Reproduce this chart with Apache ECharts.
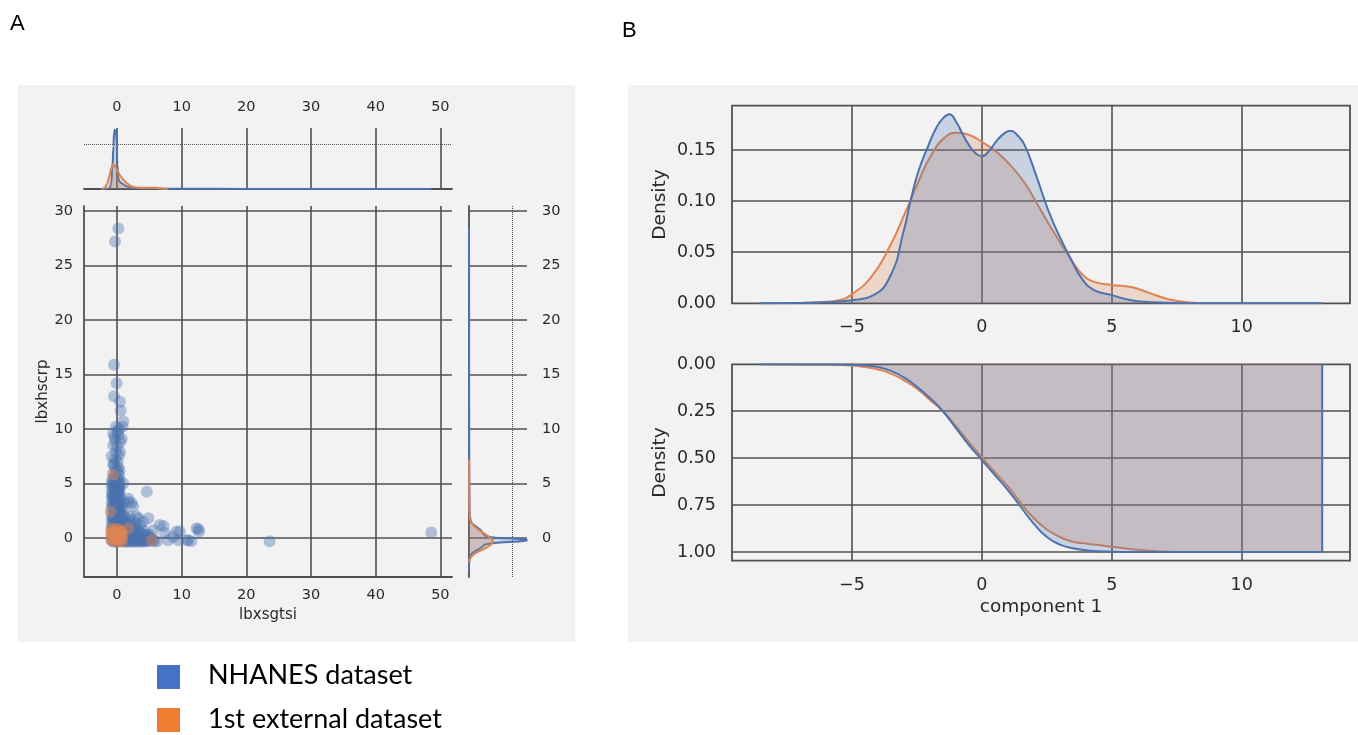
<!DOCTYPE html>
<html><head><meta charset="utf-8">
<script src="https://cdn.jsdelivr.net/npm/echarts@6/dist/echarts.min.js"></script>
<style>html,body{margin:0;padding:0;background:#fff}#c{width:1358px;height:735px}</style>
</head><body><div id="c"></div>
<script>
// ---------- DATA ----------
// Panel A scatter: [lbxsgtsi, lbxhscrp]
const nhanesPoints = [
  [0.2,28.4],[-0.3,27.2],[48.6,0.5],[23.6,-0.3],
  [-0.46,15.9],[-0.05,14.2],[-0.46,13.0],[0.46,12.5],[0.57,11.7],[0.97,10.7],[-0.15,10.2],[0.88,10.2],[0.3,10.0],
  [-0.57,9.6],[0.2,9.4],[-0.31,9.0],[0.72,9.1],[-0.57,8.5],[0.0,8.4],[0.46,7.9],[-0.82,7.5],[-0.31,7.2],[0.3,7.6],
  [-0.57,6.7],[0.2,6.5],[0.97,5.0],[4.6,4.25],[1.9,3.3],[1.75,3.6],[2.27,3.2],[2.5,2.9],
  [2.0,2.0],[3.0,2.0],[3.3,1.8],[4.85,1.8],[4.0,1.5],[6.6,1.2],[7.2,1.1],[5.6,0.7],[7.4,0.45],[9.2,0.6],[9.7,0.6],
  [8.7,0.1],[9.5,-0.2],[10.8,-0.2],[11.0,-0.2],[11.5,-0.3],[12.3,0.9],[12.7,0.6],[12.6,0.8],[5.6,-0.2],[7.9,-0.2],
  [1.75,0.9],[6.2,-0.3],[5.0,0.3],[4.5,-0.2],
  [-0.6,5.9],[0.0,6.1],[-0.5,5.5],[0.1,5.4],[-0.7,5.0],[-0.2,4.9],[0.3,5.1],
  [-0.5,4.5],[0.0,4.4],[0.4,4.6],[-0.7,4.0],[-0.2,3.9],[0.3,4.1],
  [-0.5,3.5],[0.0,3.4],[0.5,3.6],[1.1,3.3],[-0.7,3.0],[-0.2,2.9],[0.3,3.1],[0.8,2.8],
  [-0.5,2.5],[0.0,2.4],[0.5,2.6],[1.0,2.3],[-0.7,2.0],[-0.2,1.9],[0.3,2.1],[0.8,1.8],[1.4,1.7],[2.2,1.6],
  [-0.5,1.5],[0.0,1.4],[0.5,1.6],[1.0,1.3],[1.6,1.4],[2.3,1.2],[3.0,1.3],[3.6,1.1],
  [-0.7,1.0],[-0.2,0.9],[0.3,1.1],[0.8,0.8],[1.4,0.9],[2.0,0.7],[2.7,0.8],[3.4,0.6],[4.1,0.7],
  [-0.5,0.5],[0.0,0.4],[0.5,0.6],[1.1,0.3],[1.7,0.4],[2.4,0.2],[3.1,0.3],[3.8,0.1],[4.5,0.2],[5.2,0.0],
  [-0.7,0.0],[-0.2,-0.1],[0.3,0.1],[0.9,-0.2],[1.5,-0.1],[2.1,-0.2],[2.8,-0.3],[3.5,-0.2],[4.2,-0.3],[4.9,-0.3],[5.7,-0.3],
  [-0.5,-0.35],[0.1,-0.35],[0.6,-0.3],[1.2,-0.35],[1.8,-0.35],[2.5,-0.35],[3.2,-0.35],[3.9,-0.35],
  [-0.3,5.7],[0.3,5.8],[-0.4,5.2],[0.2,5.0],[-0.6,4.7],[0.1,4.7],[-0.3,4.2],[0.2,4.3],[-0.6,3.8],[0.1,3.7],
  [-0.3,3.2],[0.2,3.2],[-0.6,2.7],[0.1,2.7],[0.6,3.0],[-0.3,2.2],[0.2,2.3],[0.6,2.1],[-0.6,1.7],[0.1,1.7],
  [0.7,1.5],[1.2,1.9],[-0.3,1.2],[0.2,1.2],[0.8,1.1],[1.3,1.2],[1.9,1.0],[2.6,1.0],[-0.6,0.7],[0.0,0.7],
  [0.6,0.8],[1.2,0.6],[1.8,0.6],[2.5,0.5],[3.2,0.5],[3.9,0.4],[-0.3,0.2],[0.3,0.3],[0.9,0.1],[1.5,0.2],
  [2.1,0.1],[2.8,0.0],[3.5,0.0],[4.2,0.0],[4.8,0.1],[-0.6,-0.2],[0.0,-0.15],[0.6,-0.1],[1.3,-0.2],[1.9,-0.25],
  [2.6,-0.15],[3.3,-0.1],[4.0,-0.15],[4.6,-0.1],[5.4,-0.15],[-0.2,6.4],[0.4,6.2],[-0.5,6.8],[0.1,7.0],[-0.2,7.9],
  [0.5,8.8],[-0.4,9.3],[0.1,9.8],
  [-0.8,5.25],[-0.4,5.3],[0.0,5.2],[0.4,5.35],[-0.8,4.75],[-0.4,4.8],[0.0,4.7],[0.4,4.85],
  [-0.8,4.25],[-0.4,4.3],[0.0,4.2],[0.4,4.35],[-0.8,3.75],[-0.4,3.8],[0.0,3.7],[0.4,3.85],
  [-0.8,3.25],[-0.4,3.3],[0.0,3.2],[0.4,3.35],[-0.8,2.75],[-0.4,2.8],[0.0,2.7],[0.4,2.85],
  [-0.8,2.25],[-0.4,2.3],[0.0,2.2],[0.4,2.35],[-0.8,1.75],[-0.4,1.8],[0.0,1.7],[0.4,1.85],
  [-0.8,1.25],[-0.4,1.3],[0.0,1.2],[0.4,1.35],[-0.8,0.75],[-0.4,0.8],[0.0,0.7],[0.4,0.85],
  [-0.8,0.25],[-0.4,0.3],[0.0,0.2],[0.4,0.35],[-0.8,-0.25],[-0.4,-0.2],[0.0,-0.3],[0.4,-0.15],
  [1.0,0.25],[1.6,0.3],[2.2,0.25],[2.8,0.3],[3.4,0.2],[4.0,0.25],[4.6,0.3],
  [0.9,-0.25],[1.6,-0.3],[2.3,-0.25],[3.0,-0.3],[3.7,-0.25],[4.4,-0.3],[5.1,-0.2],
  [1.0,0.75],[1.6,0.7],[2.2,0.8],[2.8,0.75],[0.9,1.25],[1.5,1.2]
];
const externalPoints = [
  [-0.57,5.8],[-0.97,2.4],[1.75,0.9],[5.4,-0.2],
  [-0.9,0.8],[-0.4,0.85],[0.1,0.8],[0.6,0.7],
  [-0.9,0.4],[-0.5,0.5],[0.0,0.45],[0.5,0.4],[0.9,0.3],
  [-0.8,0.1],[-0.3,0.0],[0.2,0.1],[0.7,0.0],
  [-0.9,-0.2],[-0.5,-0.3],[0.0,-0.25],[0.4,-0.3],[0.8,-0.35],
  [-0.6,0.2],[0.3,0.6],[-0.2,0.3],[0.4,-0.05],[-0.7,0.6],[0.7,0.45],[-0.1,-0.1]
];
// Panel A top marginal KDE of lbxsgtsi (relative density units)
const topKdeX_nhanes = [-2.5,-1.5,-1.1,-0.9,-0.7,-0.55,-0.45,-0.35,-0.25,-0.15,-0.05,0.05,0.2,0.4,0.7,1.0,1.5,2.0,3.0,5.0,10,20,30,40,48.6];
const topKdeD_nhanes = [0,0.005,0.03,0.12,0.45,0.95,1.25,1.31,1.22,1.3,1.05,0.55,0.25,0.16,0.13,0.1,0.06,0.035,0.02,0.01,0.004,0.002,0.001,0.001,0];
const topKdeX_external = [-2.3,-1.9,-1.5,-1.2,-0.9,-0.66,-0.4,-0.1,0.2,0.5,0.8,1.1,1.5,2.0,2.5,3.0,4.0,5.0,6.0,7.0,7.8];
const topKdeD_external = [0,0.03,0.12,0.28,0.46,0.556,0.53,0.45,0.37,0.3,0.24,0.19,0.13,0.08,0.05,0.035,0.025,0.03,0.025,0.01,0];
// Panel A right marginal KDE of lbxhscrp
const rightKdeY_nhanes = [-3.0,-2.0,-1.5,-1.2,-0.9,-0.6,-0.45,-0.3,-0.2,-0.1,0.05,0.2,0.4,0.7,1.0,1.4,2.0,3,5,8,12,20,28.4];
const rightKdeD_nhanes = [0,0.01,0.05,0.15,0.28,0.38,0.6,1.2,1.35,1.2,0.55,0.38,0.33,0.28,0.18,0.06,0.02,0.012,0.008,0.005,0.003,0.002,0];
const rightKdeY_external = [-2.2,-1.8,-1.4,-1.0,-0.6,-0.3,0,0.3,0.6,1.0,1.4,1.8,2.5,4,6,7.2];
const rightKdeD_external = [0,0.04,0.15,0.35,0.52,0.56,0.5,0.4,0.28,0.14,0.05,0.02,0.01,0.008,0.005,0];
// Panel B top: density of component 1
const pdfX_nhanes = [-8.57,-7,-6,-5,-4.25,-3.54,-3.0,-2.73,-2.46,-2.1,-1.75,-1.5,-1.25,-1.0,-0.75,-0.5,-0.25,0,0.3,0.6,0.9,1.1,1.35,1.64,2.09,2.54,2.98,3.43,3.88,4.32,5.0,5.75,6.64,8,10,13.1];
const pdfD_nhanes = [0,0.0002,0.001,0.003,0.007,0.026,0.072,0.102,0.128,0.152,0.172,0.181,0.185,0.178,0.166,0.155,0.147,0.144,0.150,0.160,0.167,0.169,0.165,0.155,0.125,0.092,0.066,0.043,0.023,0.013,0.008,0.003,0.001,0,0,0];
const pdfX_external = [-8.57,-7,-6,-5.5,-5,-4.25,-3.54,-3.0,-2.46,-1.93,-1.39,-0.95,-0.5,0,0.57,1.1,1.64,2.18,2.71,3.43,3.88,4.32,5.0,5.75,6.46,7.18,7.9,8.6,13.1];
const pdfD_external = [0,0.0003,0.0015,0.003,0.009,0.026,0.056,0.086,0.118,0.146,0.163,0.167,0.165,0.158,0.148,0.135,0.118,0.095,0.072,0.043,0.028,0.021,0.018,0.016,0.010,0.004,0.001,0,0];
// Panel B bottom: cumulative density of component 1
const cdfX = [-8.57,-6,-5,-4.5,-4,-3.5,-3,-2.5,-2,-1.5,-1,-0.5,0,0.5,1,1.5,2,2.5,3,3.5,4,4.5,5,6,7,8,13.1];
const cdf_nhanes = [0,0.0005,0.002,0.006,0.015,0.035,0.07,0.12,0.18,0.25,0.34,0.43,0.51,0.59,0.67,0.76,0.85,0.92,0.96,0.98,0.99,0.996,0.998,1.0,1.0,1.0,1.0];
const cdf_external = [0,0.002,0.007,0.015,0.028,0.05,0.085,0.13,0.19,0.25,0.33,0.415,0.495,0.575,0.65,0.74,0.82,0.88,0.92,0.945,0.955,0.963,0.972,0.988,0.997,1.0,1.0];
const legendLabels = ['NHANES dataset', '1st external dataset'];

// ---------- STYLE ----------
const BLUE = '#4C72B0', ORANGE = '#DD8452';
const BLUE_FILL = 'rgba(76,114,176,0.25)', ORANGE_FILL = 'rgba(221,132,82,0.25)';
const GRIDC = '#505050';
const FONT = 'DejaVu Sans';
const TXT = '#2a2a2a';
const zip = (a, b) => a.map((v, i) => [v, b[i]]);
const minus = v => String(v).replace('-', '\u2212');

const chart = echarts.init(document.getElementById('c'), null, {renderer: 'canvas'});

function splitL(type) {
  return {show: true, showMinLine: false, showMaxLine: false, lineStyle: {color: GRIDC, width: type === 'dotted' ? 1 : 1.6, type: type || 'solid'}};
}
const noLine = {show: false}, noTick = {show: false}, noLabel = {show: false};

function kdeLine(data, xi, yi, color, fill, z, smooth, mono) {
  const s = {type: 'line', xAxisIndex: xi, yAxisIndex: yi, data: data, showSymbol: false, symbol: 'none',
    smooth: smooth, lineStyle: {color: color, width: 2}, itemStyle: {color: color},
    areaStyle: {color: fill, origin: 'start', opacity: 1}, z: z || 3, silent: true, animation: false};
  if (mono) s.smoothMonotone = 'x';
  return s;
}
function sideKde(ys, ds, color, fill, z) {
  return {type: 'custom', xAxisIndex: 3, yAxisIndex: 2, data: [0], silent: true, z: z || 3, animation: false,
    renderItem: function (params, api) {
      const pts = ys.map((y, i) => api.coord([ds[i], y]));
      const poly = [api.coord([0, ys[0]])].concat(pts, [api.coord([0, ys[ys.length - 1]])]);
      return {type: 'group', children: [
        {type: 'polygon', shape: {points: poly, smooth: 0.3}, style: {fill: fill}},
        {type: 'polyline', shape: {points: pts, smooth: 0.3}, style: {stroke: color, lineWidth: 2, fill: null}}
      ]};
    }};
}

const scatterX = {min: -5.1, max: 51.8};
const scatterY = {min: -3.58, max: 30.46};
const compX = {min: -9.62, max: 14.17};
const labA = {fontFamily: FONT, fontSize: 14.5, color: TXT};
const labB = {fontFamily: FONT, fontSize: 17.5, color: TXT};

const option = {
  animation: false,
  backgroundColor: '#ffffff',
  graphic: [
    {type: 'rect', left: 18, top: 85, shape: {width: 557, height: 557}, style: {fill: '#f2f2f2'}, z: -10},
    {type: 'rect', left: 628, top: 85, shape: {width: 730, height: 557}, style: {fill: '#f2f2f2'}, z: -10},
    {type: 'text', left: 10, top: 13, style: {text: 'A', font: '22px "Liberation Sans"', fill: '#000'}},
    {type: 'text', left: 622, top: 20, style: {text: 'B', font: '22px "Liberation Sans"', fill: '#000'}},
    {type: 'rect', left: 157, top: 665, shape: {width: 23, height: 24}, style: {fill: '#4472C4'}},
    {type: 'rect', left: 157, top: 708, shape: {width: 23, height: 24}, style: {fill: '#ED7D31'}},
    {type: 'text', left: 208, top: 662, style: {text: legendLabels[0], font: '27px Lato', fill: '#000'}},
    {type: 'text', left: 208, top: 706, style: {text: legendLabels[1], font: '27px Lato', fill: '#000'}}
  ],
  grid: [
    {left: 84, top: 128, width: 368, height: 61},
    {left: 84, top: 206, width: 368, height: 371},
    {left: 469, top: 206, width: 58, height: 371},
    {left: 732, top: 105.7, width: 618, height: 197.6, show: true, borderColor: GRIDC, borderWidth: 1.8},
    {left: 732, top: 364.3, width: 618, height: 196.4, show: true, borderColor: GRIDC, borderWidth: 1.8}
  ],
  xAxis: [
    {gridIndex: 0, type: 'value', ...scatterX, position: 'top', axisLine: noLine, axisTick: noTick,
      axisLabel: {...labA, margin: 13, showMinLabel: false, showMaxLabel: false}, splitLine: splitL()},
    {gridIndex: 0, type: 'value', ...scatterX, position: 'bottom', axisLine: {show: true, onZero: false, lineStyle: {color: GRIDC, width: 1.8}},
      axisTick: noTick, axisLabel: noLabel, splitLine: noLine},
    {gridIndex: 1, type: 'value', ...scatterX, position: 'bottom', axisLine: {show: true, onZero: false, lineStyle: {color: GRIDC, width: 1.8}},
      axisTick: noTick, axisLabel: {...labA, margin: 11, showMinLabel: false, showMaxLabel: false}, splitLine: splitL(),
      name: 'lbxsgtsi', nameLocation: 'middle', nameGap: 31, nameTextStyle: {fontFamily: FONT, fontSize: 15, color: TXT}},
    {gridIndex: 2, type: 'value', min: 0, max: 1.35, interval: 1, axisLine: noLine, axisTick: noTick, axisLabel: noLabel, splitLine: splitL('dotted')},
    {gridIndex: 3, type: 'value', ...compX, axisLine: noLine, axisTick: noTick,
      axisLabel: {...labB, margin: 15, showMinLabel: false, showMaxLabel: false, formatter: minus}, splitLine: splitL()},
    {gridIndex: 4, type: 'value', ...compX, axisLine: noLine, axisTick: noTick,
      axisLabel: {...labB, margin: 16, showMinLabel: false, showMaxLabel: false, formatter: minus}, splitLine: splitL(),
      name: 'component 1', nameLocation: 'middle', nameGap: 37, nameTextStyle: {fontFamily: FONT, fontSize: 18.5, color: TXT}}
  ],
  yAxis: [
    {gridIndex: 0, type: 'value', min: 0, max: 1.35, interval: 1, axisLine: noLine, axisTick: noTick, axisLabel: noLabel, splitLine: splitL('dotted')},
    {gridIndex: 1, type: 'value', ...scatterY, axisLine: {show: true, onZero: false, lineStyle: {color: GRIDC, width: 1.8}}, axisTick: noTick,
      axisLabel: {...labA, margin: 11, showMinLabel: false, showMaxLabel: false}, splitLine: splitL(),
      name: 'lbxhscrp', nameLocation: 'middle', nameGap: 32, nameTextStyle: {fontFamily: FONT, fontSize: 15, color: TXT}},
    {gridIndex: 2, type: 'value', ...scatterY, position: 'left', axisLine: {show: true, onZero: false, lineStyle: {color: GRIDC, width: 1.8}}, axisTick: noTick,
      axisLabel: noLabel, splitLine: splitL()},
    {gridIndex: 2, type: 'value', ...scatterY, position: 'right', axisLine: noLine, axisTick: noTick,
      axisLabel: {...labA, margin: 15, showMinLabel: false, showMaxLabel: false}, splitLine: noLine},
    {gridIndex: 3, type: 'value', min: 0, max: 0.1934, interval: 0.05, axisLine: noLine, axisTick: noTick,
      axisLabel: {...labB, margin: 16, showMaxLabel: false, formatter: v => v.toFixed(2)}, splitLine: splitL(),
      name: 'Density', nameLocation: 'middle', nameGap: 62, nameTextStyle: {fontFamily: FONT, fontSize: 18.5, color: TXT}},
    {gridIndex: 4, type: 'value', min: 0, max: 1.046, interval: 0.25, inverse: true, axisLine: noLine, axisTick: noTick,
      axisLabel: {...labB, margin: 16, showMaxLabel: false, formatter: v => v.toFixed(2)}, splitLine: splitL(),
      name: 'Density', nameLocation: 'middle', nameGap: 62, nameTextStyle: {fontFamily: FONT, fontSize: 18.5, color: TXT}}
  ],
  series: [
    kdeLine(zip(topKdeX_nhanes, topKdeD_nhanes), 0, 0, BLUE, BLUE_FILL, 3, 0.35, true),
    kdeLine(zip(topKdeX_external, topKdeD_external), 0, 0, ORANGE, ORANGE_FILL, 4, 0.35, true),
    {type: 'scatter', xAxisIndex: 2, yAxisIndex: 1, data: nhanesPoints, symbolSize: 12,
      itemStyle: {color: BLUE, opacity: 0.4}, silent: true, z: 3},
    {type: 'scatter', xAxisIndex: 2, yAxisIndex: 1, data: externalPoints, symbolSize: 12,
      itemStyle: {color: ORANGE, opacity: 0.45}, silent: true, z: 4},
    sideKde(rightKdeY_nhanes, rightKdeD_nhanes, BLUE, BLUE_FILL, 3),
    sideKde(rightKdeY_external, rightKdeD_external, ORANGE, ORANGE_FILL, 4),
    kdeLine(zip(pdfX_nhanes, pdfD_nhanes), 4, 4, BLUE, BLUE_FILL, 4, 0.5, false),
    kdeLine(zip(pdfX_external, pdfD_external), 4, 4, ORANGE, ORANGE_FILL, 3, 0.5, false),
    kdeLine(zip(cdfX, cdf_external), 5, 5, ORANGE, ORANGE_FILL, 3, 0.5, false),
    kdeLine(zip(cdfX, cdf_nhanes), 5, 5, BLUE, BLUE_FILL, 4, 0.5, false),
    {type: 'line', xAxisIndex: 5, yAxisIndex: 5, showSymbol: false, symbol: 'none', silent: true, z: 5,
      data: [[cdfX[cdfX.length - 1], cdf_nhanes[cdf_nhanes.length - 1]], [cdfX[cdfX.length - 1], cdf_nhanes[0]]],
      lineStyle: {color: BLUE, width: 2}}
  ]
};
chart.setOption(option);
</script>
</body></html>
